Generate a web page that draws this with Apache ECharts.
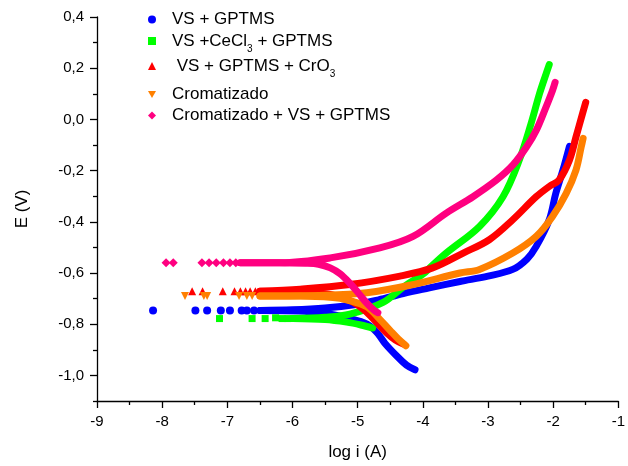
<!DOCTYPE html>
<html><head><meta charset="utf-8">
<script src="https://cdn.jsdelivr.net/npm/echarts@6/dist/echarts.min.js"></script>
<style>html,body{margin:0;padding:0;background:#fff}#c{width:628px;height:466px}</style>
</head><body><div id="c"></div>
<script>
// ---- data: [log i (A), E (V)] ----
const yMajor = [-1.0, -0.8, -0.6, -0.4, -0.2, 0.0, 0.2, 0.4];
const yMinor = [-1.1, -0.9, -0.7, -0.5, -0.3, -0.1, 0.1, 0.3];

const blueSparse = [[-8.14,-0.746],[-7.49,-0.746],[-7.31,-0.746],[-7.10,-0.746],[-6.96,-0.746],[-6.78,-0.746],[-6.70,-0.746],[-6.59,-0.746]];
const blueCath = [[-6.5,-0.746],[-5.9,-0.748],[-5.4,-0.762],[-5.17,-0.774],[-4.95,-0.79],[-4.81,-0.807],[-4.68,-0.84],[-4.58,-0.875],[-4.40,-0.924],[-4.25,-0.96],[-4.12,-0.978]];
const blueAnod = [[-6.5,-0.746],[-6.0,-0.744],[-5.5,-0.737],[-5.0,-0.722],[-4.68,-0.705],[-4.3,-0.68],[-3.9,-0.658],[-3.43,-0.633],[-3.0,-0.612],[-2.62,-0.586],[-2.4,-0.545],[-2.26,-0.496],[-2.06,-0.392],[-1.96,-0.289],[-1.85,-0.198],[-1.75,-0.105]];

const greenSparse = [[-7.12,-0.778],[-6.62,-0.778],[-6.42,-0.778],[-6.26,-0.775],[-6.16,-0.778],[-6.07,-0.778]];
const greenCath = [[-6.0,-0.778],[-5.5,-0.782],[-5.17,-0.792],[-4.95,-0.803],[-4.77,-0.815]];
const greenAnod = [[-6.0,-0.778],[-5.5,-0.773],[-5.12,-0.761],[-4.61,-0.715],[-4.3,-0.655],[-4.0,-0.605],[-3.89,-0.579],[-3.64,-0.522],[-3.13,-0.418],[-2.77,-0.302],[-2.52,-0.159],[-2.34,-0.017],[-2.21,0.100],[-2.11,0.177],[-2.06,0.214]];

const redSparse = [[-7.54,-0.671],[-7.38,-0.671],[-7.07,-0.671],[-6.89,-0.671],[-6.80,-0.671],[-6.72,-0.671],[-6.65,-0.671],[-6.57,-0.671]];
const redCath = [[-6.5,-0.671],[-5.88,-0.673],[-5.4,-0.685],[-5.1,-0.71],[-4.9,-0.745],[-4.7,-0.795],[-4.55,-0.835],[-4.42,-0.862],[-4.3,-0.877]];
const redAnod = [[-6.5,-0.671],[-5.88,-0.663],[-5.12,-0.645],[-4.35,-0.612],[-3.85,-0.580],[-3.38,-0.522],[-2.98,-0.470],[-2.62,-0.392],[-2.26,-0.302],[-2.05,-0.26],[-1.91,-0.237],[-1.75,-0.159],[-1.65,-0.069],[-1.55,0.022],[-1.50,0.067]];

const orangeSparse = [[-7.65,-0.69],[-7.36,-0.69],[-7.31,-0.69],[-6.82,-0.69],[-6.70,-0.69],[-6.62,-0.69]];
const orangeCath = [[-6.5,-0.69],[-5.88,-0.690],[-5.38,-0.696],[-5.17,-0.705],[-4.86,-0.732],[-4.66,-0.781],[-4.50,-0.825],[-4.38,-0.857],[-4.26,-0.884]];
const orangeAnod = [[-6.5,-0.69],[-5.5,-0.687],[-4.86,-0.677],[-4.20,-0.648],[-3.43,-0.600],[-3.13,-0.586],[-2.62,-0.522],[-2.26,-0.457],[-2.01,-0.379],[-1.80,-0.289],[-1.65,-0.198],[-1.57,-0.108],[-1.54,-0.074]];

const pinkSparse = [[-7.94,-0.56],[-7.83,-0.56],[-7.39,-0.56],[-7.28,-0.56],[-7.17,-0.56],[-7.06,-0.56],[-6.96,-0.56],[-6.87,-0.56]];
const pinkCath = [[-6.8,-0.56],[-6.2,-0.56],[-5.8,-0.562],[-5.6,-0.566],[-5.42,-0.58],[-5.27,-0.603],[-5.12,-0.64],[-5.0,-0.675],[-4.86,-0.718],[-4.75,-0.745],[-4.69,-0.755]];
const pinkAnod = [[-6.8,-0.56],[-6.19,-0.560],[-5.42,-0.541],[-4.66,-0.502],[-4.15,-0.457],[-3.64,-0.366],[-3.23,-0.302],[-2.87,-0.237],[-2.62,-0.179],[-2.41,-0.108],[-2.26,-0.043],[-2.11,0.048],[-2.01,0.113],[-1.97,0.145]];

const names = ['VS + GPTMS','VS +CeCl3 + GPTMS','VS + GPTMS + CrO3','Cromatizado','Cromatizado + VS + GPTMS'];
const labels = ['VS + GPTMS','VS +CeCl{s|3} + GPTMS',' VS + GPTMS + CrO{s|3}','Cromatizado','Cromatizado + VS + GPTMS'];
// ------------------------------------

const FONT = 'Liberation Sans, Arial, sans-serif';
const downTri = 'path://M0,0 L10,0 L5,9 Z';
const styles = [
  {color:'#0000FF', symbol:'circle', size:8},
  {color:'#00FF00', symbol:'rect', size:7},
  {color:'#FF0000', symbol:'triangle', size:8},
  {color:'#FF8000', symbol:downTri, size:8},
  {color:'#FF0080', symbol:'diamond', size:9}
];
const groups = [
  [blueSparse, blueCath, blueAnod],
  [greenSparse, greenCath, greenAnod],
  [redSparse, redCath, redAnod],
  [orangeSparse, orangeCath, orangeAnod],
  [pinkSparse, pinkCath, pinkAnod]
];

const series = [];
groups.forEach((g, i) => {
  const st = styles[i];
  series.push({
    name: names[i], type: 'scatter', data: g[0], symbol: st.symbol, symbolSize: st.size,
    itemStyle: {color: st.color, opacity: 1}, silent: true, z: 2 + i
  });
  [g[1], g[2]].forEach(d => series.push({
    name: names[i], type: 'line', data: d, smooth: 0.35, showSymbol: false,
    symbol: st.symbol, lineStyle: {width: 7, color: st.color, cap: 'round', join: 'round'},
    itemStyle: {color: st.color, opacity: 1}, silent: true, z: 2 + i
  }));
});

const legendTops = [6, 23, 48, 81, 102];
const legends = names.map((n, i) => ({
  data: [{name: n, icon: styles[i].symbol, itemStyle: {color: styles[i].color, opacity: 1}}],
  left: 143, top: legendTops[i], orient: 'vertical',
  itemWidth: 8, itemHeight: 8, selectedMode: false,
  formatter: () => labels[i],
  textStyle: {
    fontFamily: FONT, fontSize: 17, color: '#000', padding: [0, 0, 0, 11],
    rich: {s: {fontFamily: FONT, fontSize: 10, color: '#000', lineHeight: 10, padding: [16, 0, 0, 0]}}
  }
}));

const chart = echarts.init(document.getElementById('c'));
chart.setOption({
  animation: false,
  backgroundColor: '#fff',
  grid: {left: 97, right: 8.5, top: 17, bottom: 62.5, containLabel: false},
  legend: legends,
  xAxis: {
    type: 'value', min: -9, max: -1, interval: 1,
    name: 'log i (A)', nameLocation: 'middle', nameGap: 43,
    nameTextStyle: {fontFamily: FONT, fontSize: 17, color: '#000'},
    axisLine: {onZero: false, lineStyle: {color: '#000', width: 1.3}},
    axisTick: {length: 7, lineStyle: {color: '#000', width: 1.3}},
    minorTick: {show: true, splitNumber: 2, length: 4, lineStyle: {color: '#000', width: 1.3}},
    splitLine: {show: false},
    axisLabel: {fontFamily: FONT, fontSize: 15, color: '#000', margin: 13}
  },
  yAxis: [{
    type: 'value', min: -1.1, max: 0.4, interval: 0.1,
    name: 'E (V)', nameLocation: 'middle', nameGap: 66,
    nameTextStyle: {fontFamily: FONT, fontSize: 17, color: '#000'},
    axisLine: {onZero: false, lineStyle: {color: '#000', width: 1.3}},
    axisTick: {length: 7, customValues: yMajor, lineStyle: {color: '#000', width: 1.3}},
    splitLine: {show: false},
    axisLabel: {fontFamily: FONT, fontSize: 15, color: '#000', margin: 13, customValues: yMajor,
      formatter: v => v.toFixed(1).replace('.', ',')}
  }, {
    type: 'value', min: -1.1, max: 0.4, interval: 0.1, position: 'left',
    axisLine: {show: false},
    axisTick: {length: 4, customValues: yMinor, lineStyle: {color: '#000', width: 1.3}},
    axisLabel: {show: false}, splitLine: {show: false}
  }],
  series: series
});
</script></body></html>
